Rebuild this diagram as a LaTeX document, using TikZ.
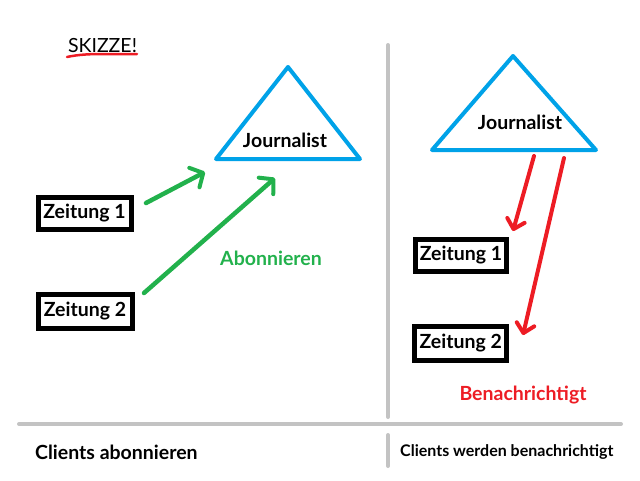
\documentclass[tikz,border=0pt]{standalone}
\usepackage{fontspec}
\setmainfont{Lato}
\usetikzlibrary{arrows.meta}
\definecolor{skyblue}{RGB}{0,162,232}
\definecolor{leafgreen}{RGB}{34,177,76}
\definecolor{signalred}{RGB}{237,28,36}
\definecolor{divider}{RGB}{195,195,195}
\tikzset{
  jlabel/.style={inner sep=0pt, font=\bfseries\fontsize{19.5}{22}\selectfont},
  paperbox/.style={draw=black, line width=5pt, inner sep=0pt, font=\bfseries\fontsize{19.5}{22}\selectfont},
  jtri/.style={draw=skyblue, line width=4pt, line join=round},
  subarrow/.style={draw=leafgreen, line width=4.5pt, line cap=round, -{Straight Barb[length=10pt,width=22pt,line width=4pt,round]}},
  notarrow/.style={draw=signalred, line width=4pt, line cap=round, -{Straight Barb[length=9pt,width=18pt,line width=4pt,round]}},
  rule/.style={draw=divider, line width=4pt, line cap=round},
}
\begin{document}
\begin{tikzpicture}[x=1pt,y=-1pt]
\useasboundingbox (0,0) rectangle (640,480);

% title with red underline
\node[inner sep=0pt, font=\fontsize{19.5}{22}\selectfont] (title) at (102.5,46) {SKIZZE!};
\draw[signalred, line width=2.5pt, line cap=round] (67,57) .. controls (90,52) and (115,55) .. (137,54);

% dividers
\draw[rule] (388,45) -- (388,417);
\draw[rule] (19,424) -- (621,424);
\draw[rule] (388,435) -- (388,466);

% left panel: journalist
\coordinate (la) at (288,67);
\coordinate (lb) at (216,159);
\coordinate (lc) at (360,159);
\draw[jtri] (la) -- (lc) -- (lb) -- cycle;
\node[jlabel] (ljour) at (285,140) {Journalist};

% left panel: newspapers
\node[paperbox, minimum width=93pt, minimum height=32pt] (lz1) at (84.5,213.5) {Zeitung 1};
\node[paperbox, minimum width=94pt, minimum height=34pt] (lz2) at (85,311.5) {Zeitung 2};

\coordinate (g1s) at (146,203);
\coordinate (g1e) at (205,172);
\coordinate (g2s) at (144,293);
\coordinate (g2e) at (275,178);
\draw[subarrow] (g1s) -- (g1e);
\draw[subarrow] (g2s) -- (g2e);
\node[jlabel, text=leafgreen] (abo) at (271,258) {Abonnieren};

% right panel: journalist
\coordinate (ra) at (513,56);
\coordinate (rb) at (432,150);
\coordinate (rc) at (596,150);
\draw[jtri] (ra) -- (rc) -- (rb) -- cycle;
\node[jlabel] (rjour) at (520,122) {Journalist};

% right panel: newspapers
\node[paperbox, minimum width=91pt, minimum height=32.5pt] (rz1) at (461,255.5) {Zeitung 1};
\node[paperbox, minimum width=92pt, minimum height=34pt] (rz2) at (460.7,343.5) {Zeitung 2};

\coordinate (r1s) at (534,156);
\coordinate (r1e) at (513,231);
\coordinate (r2s) at (564,158);
\coordinate (r2e) at (523,335);
\draw[notarrow] (r1s) -- (r1e);
\draw[notarrow] (r2s) -- (r2e);
\node[jlabel, text=signalred] (ben) at (523,395) {Benachrichtigt};

% captions
\node[jlabel, anchor=west] (capl) at (35,452) {Clients abonnieren};
\node[jlabel, font=\bfseries\fontsize{16}{18}\selectfont, anchor=west] (capr) at (400,452) {Clients werden benachrichtigt};
\end{tikzpicture}
\end{document}
